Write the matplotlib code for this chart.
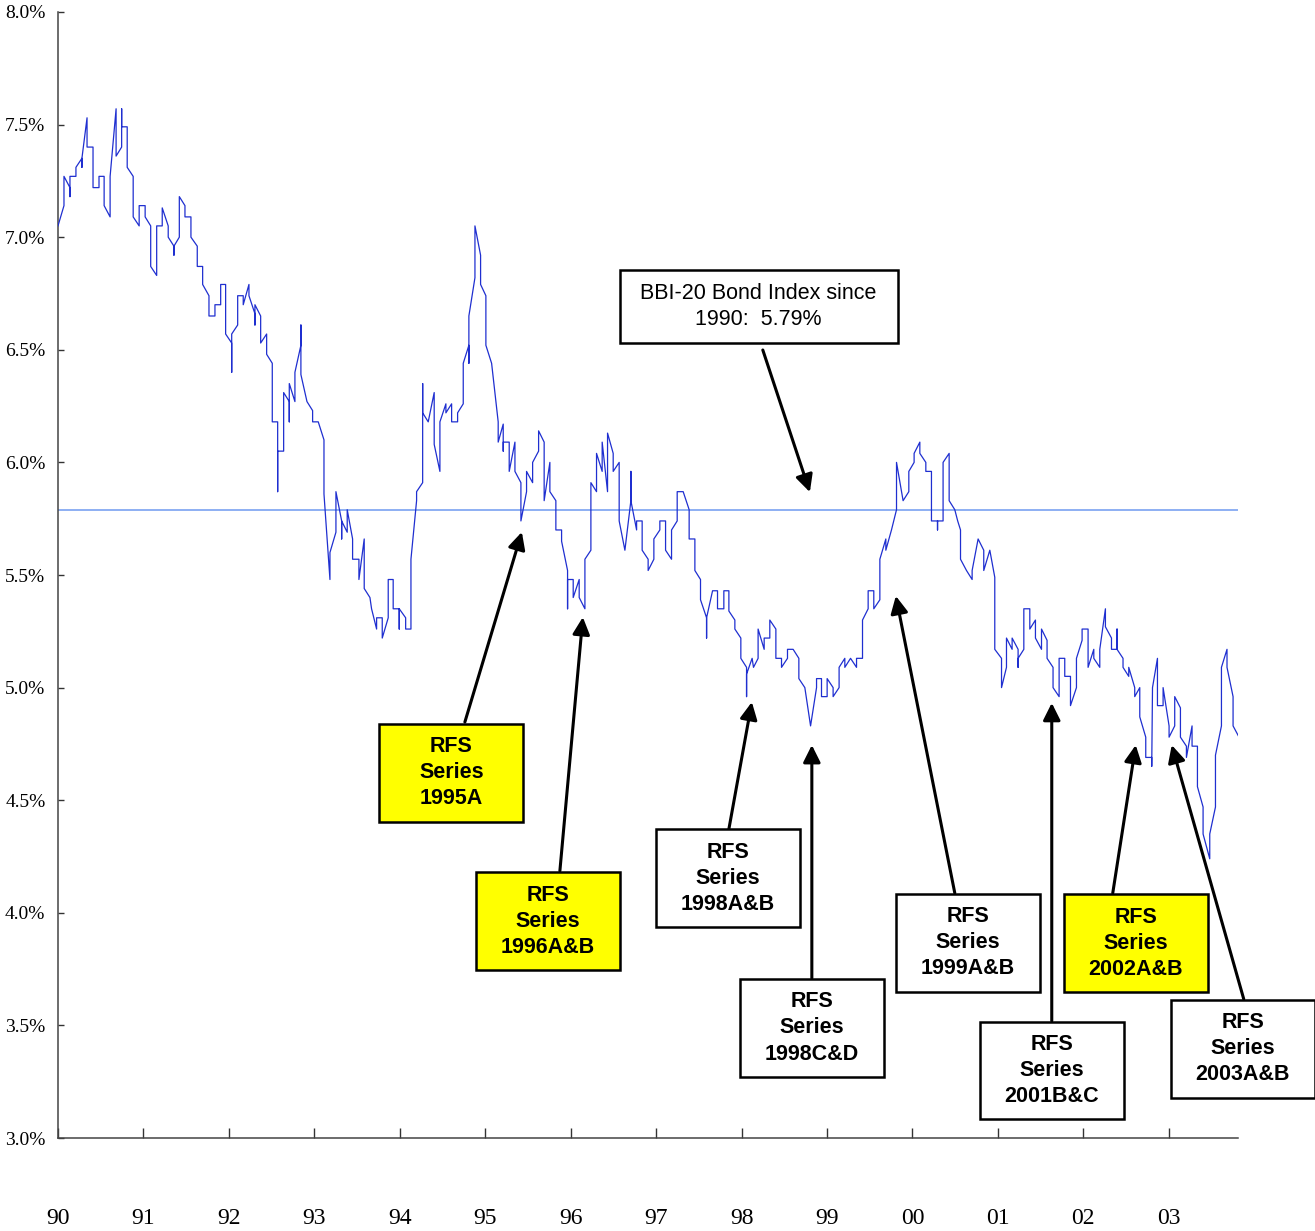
import matplotlib
matplotlib.use("Agg")
import matplotlib.pyplot as plt
from matplotlib.patches import Rectangle

# BBI-20 bond index yield
# t = years since Jan 1990, y = yield in %
t = [0.00, 0.07, 0.07, 0.14, 0.14, 0.14, 0.21, 0.21, 0.28, 0.28, 0.28,
     0.34, 0.34, 0.41, 0.41, 0.48, 0.48, 0.54, 0.54, 0.61, 0.61, 0.68, 0.68,
     0.745, 0.745, 0.745, 0.81, 0.81, 0.88, 0.88, 0.95, 0.95, 1.02, 1.02,
     1.085, 1.085, 1.155, 1.155, 1.22, 1.22, 1.29, 1.29, 1.357, 1.357, 1.357,
     1.42, 1.42, 1.486, 1.486, 1.556, 1.556, 1.63, 1.63, 1.693, 1.693,
     1.767, 1.767, 1.837, 1.837, 1.904, 1.904, 1.962, 1.962, 2.033, 2.033,
     2.033, 2.103, 2.103, 2.168, 2.168, 2.235, 2.235, 2.305, 2.305, 2.305,
     2.372, 2.372, 2.442, 2.442, 2.508, 2.508, 2.571, 2.571, 2.571, 2.641,
     2.641, 2.707, 2.707, 2.707, 2.773, 2.773, 2.843, 2.843, 2.843, 2.914,
     2.98, 2.98, 3.046, 3.113, 3.113, 3.183, 3.183, 3.253, 3.253, 3.32,
     3.32, 3.32, 3.385, 3.385, 3.448, 3.448, 3.522, 3.522, 3.584, 3.584,
     3.651, 3.67, 3.729, 3.729, 3.795, 3.795, 3.865, 3.865, 3.923, 3.923,
     3.994, 3.994, 3.994, 4.069, 4.069, 4.131, 4.131, 4.197, 4.197, 4.268,
     4.268, 4.268, 4.333, 4.403, 4.403, 4.47, 4.47, 4.54, 4.54, 4.607,
     4.607, 4.677, 4.677, 4.743, 4.743, 4.809, 4.809, 4.809, 4.88, 4.88,
     4.946, 4.946, 5.008, 5.008, 5.075, 5.152, 5.152, 5.211, 5.211, 5.211,
     5.281, 5.281, 5.348, 5.348, 5.418, 5.418, 5.484, 5.484, 5.555, 5.555,
     5.625, 5.625, 5.69, 5.69, 5.757, 5.757, 5.827, 5.827, 5.894, 5.894,
     5.964, 5.964, 5.964, 6.03, 6.03, 6.10, 6.10, 6.167, 6.167, 6.237,
     6.237, 6.303, 6.303, 6.369, 6.369, 6.432, 6.432, 6.498, 6.498, 6.568,
     6.568, 6.635, 6.705, 6.705, 6.705, 6.772, 6.772, 6.837, 6.837, 6.907,
     6.907, 6.974, 6.974, 7.044, 7.044, 7.111, 7.111, 7.181, 7.181, 7.247,
     7.247, 7.317, 7.387, 7.387, 7.454, 7.454, 7.52, 7.52, 7.591, 7.591,
     7.591, 7.661, 7.719, 7.719, 7.793, 7.793, 7.852, 7.852, 7.922, 7.922,
     7.992, 7.992, 8.059, 8.059, 8.059, 8.124, 8.14, 8.194, 8.194, 8.265,
     8.265, 8.331, 8.331, 8.402, 8.402, 8.468, 8.468, 8.538, 8.538, 8.604,
     8.671, 8.671, 8.741, 8.808, 8.878, 8.878, 8.936, 8.936, 9.002, 9.002,
     9.072, 9.072, 9.142, 9.142, 9.209, 9.209, 9.276, 9.346, 9.346, 9.416,
     9.416, 9.482, 9.482, 9.548, 9.548, 9.619, 9.619, 9.689, 9.689, 9.755,
     9.814, 9.814, 9.891, 9.958, 9.958, 10.02, 10.02, 10.087, 10.087,
     10.157, 10.157, 10.223, 10.223, 10.294, 10.294, 10.294, 10.359, 10.359,
     10.43, 10.43, 10.496, 10.53, 10.563, 10.563, 10.633, 10.699, 10.699,
     10.769, 10.835, 10.835, 10.906, 10.964, 10.964, 11.043, 11.043, 11.101,
     11.101, 11.167, 11.167, 11.237, 11.237, 11.237, 11.304, 11.304, 11.374,
     11.374, 11.44, 11.44, 11.511, 11.511, 11.576, 11.576, 11.646, 11.646,
     11.717, 11.717, 11.783, 11.783, 11.85, 11.85, 11.92, 11.92, 11.986,
     11.986, 12.056, 12.056, 12.123, 12.123, 12.193, 12.193, 12.259, 12.259,
     12.33, 12.33, 12.395, 12.395, 12.395, 12.465, 12.465, 12.532, 12.532,
     12.602, 12.602, 12.661, 12.661, 12.731, 12.731, 12.801, 12.801, 12.81,
     12.868, 12.868, 12.934, 12.934, 13.004, 13.004, 13.07, 13.07, 13.07,
     13.137, 13.137, 13.207, 13.207, 13.273, 13.273, 13.336, 13.336, 13.402,
     13.402, 13.48, 13.48, 13.547, 13.547, 13.617, 13.617, 13.682, 13.682,
     13.753, 13.753, 13.823, 13.823]
y = [7.05, 7.14, 7.27, 7.22, 7.18, 7.27, 7.27, 7.31, 7.35, 7.31, 7.35,
     7.53, 7.40, 7.40, 7.22, 7.22, 7.27, 7.27, 7.14, 7.09, 7.27, 7.57, 7.36,
     7.40, 7.57, 7.49, 7.49, 7.31, 7.27, 7.09, 7.05, 7.14, 7.14, 7.09,
     7.05, 6.87, 6.83, 7.05, 7.05, 7.13, 7.05, 7.00, 6.96, 6.92, 6.96,
     7.00, 7.18, 7.14, 7.09, 7.09, 7.00, 6.96, 6.87, 6.87, 6.79,
     6.74, 6.65, 6.65, 6.70, 6.70, 6.79, 6.79, 6.57, 6.53, 6.40,
     6.57, 6.61, 6.74, 6.74, 6.70, 6.79, 6.74, 6.66, 6.61, 6.70,
     6.65, 6.53, 6.57, 6.48, 6.44, 6.18, 6.18, 5.87, 6.05, 6.05,
     6.31, 6.27, 6.18, 6.35, 6.27, 6.40, 6.52, 6.61, 6.39, 6.27,
     6.23, 6.18, 6.18, 6.10, 5.86, 5.48, 5.60, 5.69, 5.87, 5.74,
     5.66, 5.74, 5.69, 5.79, 5.66, 5.57, 5.57, 5.48, 5.66, 5.44,
     5.40, 5.35, 5.26, 5.31, 5.31, 5.22, 5.31, 5.48, 5.48, 5.35,
     5.35, 5.26, 5.35, 5.31, 5.26, 5.26, 5.57, 5.83, 5.87, 5.91,
     6.35, 6.22, 6.18, 6.31, 6.08, 5.96, 6.18, 6.26, 6.22, 6.26,
     6.18, 6.18, 6.22, 6.26, 6.44, 6.52, 6.44, 6.65, 6.82, 7.05,
     6.92, 6.79, 6.74, 6.52, 6.44, 6.18, 6.09, 6.17, 6.05, 6.09,
     6.09, 5.96, 6.09, 5.96, 5.91, 5.74, 5.87, 5.96, 5.91, 6.00,
     6.05, 6.14, 6.09, 5.83, 6.00, 5.87, 5.83, 5.70, 5.70, 5.65,
     5.52, 5.35, 5.48, 5.48, 5.40, 5.48, 5.40, 5.35, 5.57, 5.61,
     5.91, 5.87, 6.04, 5.96, 6.09, 5.87, 6.13, 6.04, 5.96, 6.00,
     5.74, 5.61, 5.83, 5.96, 5.83, 5.70, 5.74, 5.74, 5.61, 5.57,
     5.52, 5.57, 5.66, 5.70, 5.74, 5.74, 5.61, 5.57, 5.70, 5.74,
     5.87, 5.87, 5.79, 5.66, 5.66, 5.52, 5.48, 5.39, 5.31, 5.22,
     5.31, 5.43, 5.43, 5.35, 5.35, 5.43, 5.43, 5.34, 5.30, 5.26,
     5.22, 5.13, 5.09, 4.96, 5.06, 5.13, 5.09, 5.13, 5.26, 5.17,
     5.22, 5.22, 5.30, 5.26, 5.13, 5.13, 5.09, 5.13, 5.17, 5.17,
     5.13, 5.04, 5.00, 4.83, 5.00, 5.04, 5.04, 4.96, 4.96, 5.04,
     5.00, 4.96, 5.00, 5.09, 5.13, 5.09, 5.13, 5.09, 5.13, 5.13,
     5.30, 5.35, 5.43, 5.43, 5.35, 5.39, 5.57, 5.66, 5.61, 5.70,
     5.79, 6.00, 5.83, 5.87, 5.96, 6.00, 6.04, 6.09, 6.04,
     6.00, 5.96, 5.96, 5.74, 5.74, 5.70, 5.74, 5.74, 6.00,
     6.04, 5.83, 5.79, 5.74, 5.70, 5.57, 5.52, 5.48, 5.52,
     5.66, 5.61, 5.52, 5.61, 5.49, 5.17, 5.13, 5.00, 5.09,
     5.22, 5.17, 5.22, 5.17, 5.09, 5.13, 5.17, 5.35, 5.35,
     5.26, 5.30, 5.22, 5.17, 5.26, 5.21, 5.13, 5.09, 5.00,
     4.96, 5.13, 5.13, 5.05, 5.05, 4.92, 5.00, 5.13, 5.21,
     5.26, 5.26, 5.09, 5.17, 5.13, 5.09, 5.17, 5.35, 5.27,
     5.22, 5.17, 5.17, 5.26, 5.17, 5.13, 5.09, 5.05, 5.09,
     5.00, 4.96, 5.00, 4.87, 4.78, 4.69, 4.69, 4.65, 5.00,
     5.13, 4.92, 4.92, 5.00, 4.83, 4.78, 4.83, 4.87, 4.96,
     4.91, 4.78, 4.74, 4.69, 4.83, 4.74, 4.74, 4.56, 4.47,
     4.35, 4.24, 4.35, 4.47, 4.70, 4.83, 5.09, 5.17, 5.09,
     4.96, 4.83, 4.78, 4.91]

index_avg = 5.79
year_ticks = list(range(14))
year_labels = ['90', '91', '92', '93', '94', '95', '96', '97', '98', '99',
               '00', '01', '02', '03']
pct_ticks = [3.0, 3.5, 4.0, 4.5, 5.0, 5.5, 6.0, 6.5, 7.0, 7.5, 8.0]
pct_labels = ['%.1f%%' % v for v in pct_ticks]

# RFS issues: label, highlight, box centre, arrow tail, arrow head
issues = [
    ('RFS\nSeries\n1995A', True, (4.605, 4.623), (4.762, 4.847), (5.429, 5.691)),
    ('RFS\nSeries\n1996A&B', True, (5.734, 3.962), (5.874, 4.186), (6.143, 5.313)),
    ('RFS\nSeries\n1998A&B', False, (7.840, 4.153), (7.852, 4.372), (8.121, 4.936)),
    ('RFS\nSeries\n1998C&D', False, (8.823, 3.489), (8.823, 3.710), (8.823, 4.745)),
    ('RFS\nSeries\n1999A&B', False, (10.649, 3.868), (10.496, 4.088), (9.806, 5.407)),
    ('RFS\nSeries\n2001B&C', False, (11.632, 3.300), (11.631, 3.520), (11.631, 4.932)),
    ('RFS\nSeries\n2002A&B', True, (12.615, 3.864), (12.345, 4.088), (12.614, 4.745)),
    ('RFS\nSeries\n2003A&B', False, (13.866, 3.396), (13.878, 3.617), (13.035, 4.745)),
]

fig = plt.figure(figsize=(13.15, 12.31), dpi=100)
ax = fig.add_axes([0.0441, 0.0755, 0.8973, 0.9148])

ax.plot(t, y, color='#1f2fd0', lw=0.9, zorder=3)
ax.axhline(index_avg, color='#6f9af0', lw=1.1, zorder=2)

ax.set_xlim(0, 13.81)
ax.set_ylim(3.0, 8.0)
ax.set_xticks(year_ticks)
ax.set_xticklabels(year_labels, fontsize=17, family='Liberation Serif')
ax.set_yticks(pct_ticks)
ax.set_yticklabels(pct_labels, fontsize=14, family='Liberation Serif')
ax.tick_params(axis='x', direction='in', length=7, width=1, pad=50, colors='#333333')
ax.tick_params(axis='y', direction='in', length=4, width=1, pad=9, colors='#333333')
for lab in ax.get_xticklabels() + ax.get_yticklabels():
    lab.set_color('black')
for s in ['top', 'right']:
    ax.spines[s].set_visible(False)
for s in ['left', 'bottom']:
    ax.spines[s].set_color('#444444')
    ax.spines[s].set_linewidth(1.1)

box_w, box_h = 1.685, 0.435
arrow_kw = dict(arrowstyle='-|>', mutation_scale=26, lw=2.2, color='black',
                shrinkA=0, shrinkB=0)

for label, hilite, (cx, cy), tail, head in issues:
    ax.add_patch(Rectangle((cx - box_w / 2, cy - box_h / 2), box_w, box_h,
                           facecolor='#ffff00' if hilite else 'white',
                           edgecolor='black', lw=1.8, clip_on=False, zorder=5))
    ax.text(cx, cy, label, ha='center', va='center', fontsize=15.5,
            fontweight='bold', family='Liberation Sans', linespacing=1.32,
            zorder=6, clip_on=False)
    ax.annotate('', xy=head, xytext=tail, arrowprops=arrow_kw, zorder=4,
                annotation_clip=False)

# index average call-out
ax.add_patch(Rectangle((8.20 - 1.6265, 6.692 - 0.162), 3.253, 0.324,
                       facecolor='white', edgecolor='black', lw=1.8,
                       clip_on=False, zorder=5))
ax.text(8.20, 6.692, 'BBI-20 Bond Index since\n1990:  5.79%', ha='center',
        va='center', fontsize=15.5, family='Liberation Sans', linespacing=1.3,
        zorder=6)
ax.annotate('', xy=(8.800, 5.868), xytext=(8.249, 6.499), arrowprops=arrow_kw,
            zorder=4)

plt.savefig('out.png', dpi=100)
print("Saved to out.png")
